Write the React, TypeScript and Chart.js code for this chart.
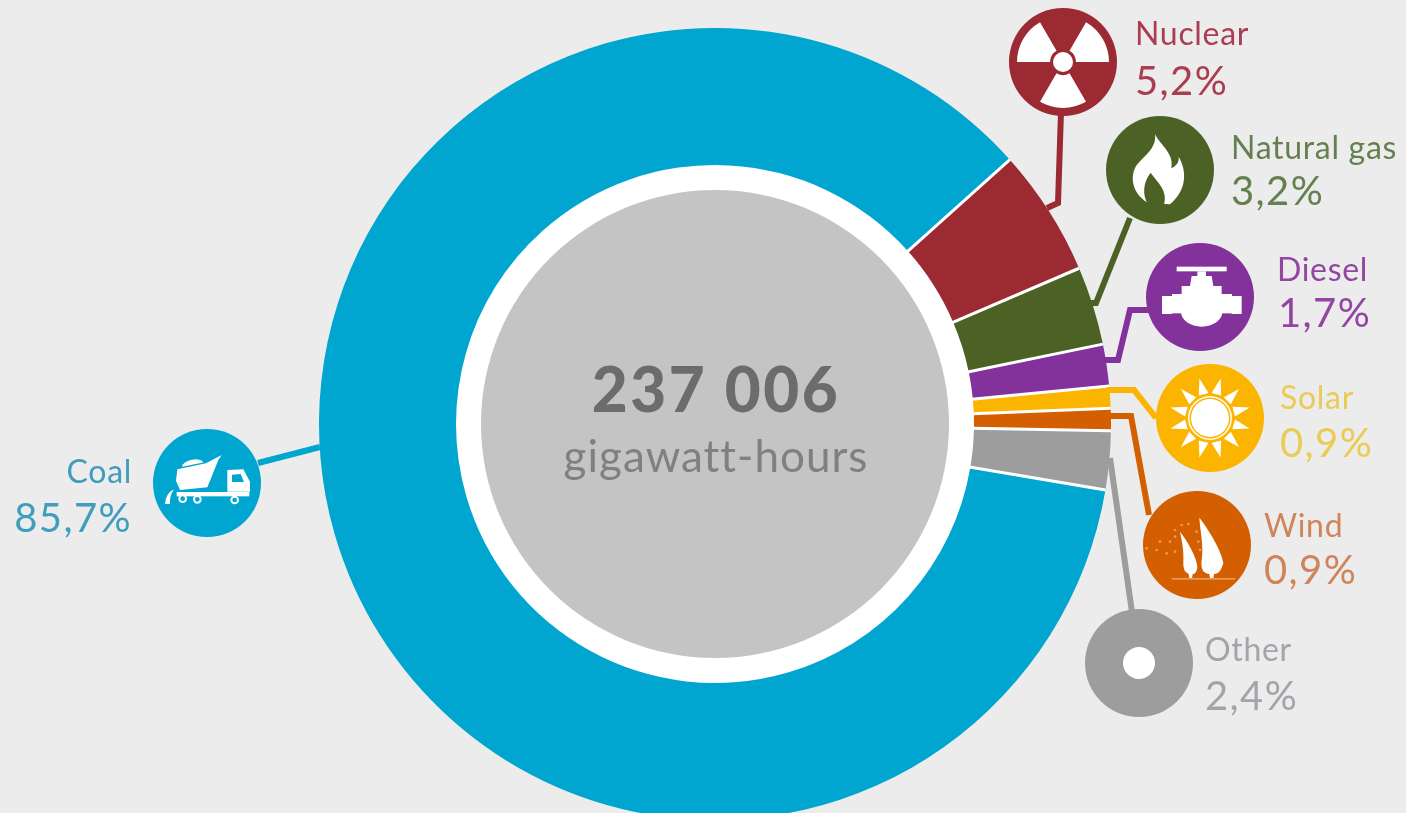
import React, { useEffect, useRef } from "react";
import { Chart, registerables } from "chart.js";

Chart.register(...registerables);

const categories = ["Coal", "Nuclear", "Natural gas", "Diesel", "Solar", "Wind", "Other"];
const shares = [85.7, 5.2, 3.2, 1.7, 0.9, 0.9, 2.4];
const sliceColors = ["#00a5d0", "#9b2a33", "#4c6225", "#84329b", "#fbb400", "#d35f00", "#9d9d9d"];
const labelColors = ["#3f9dbd", "#ab3d50", "#64804f", "#9245a2", "#eacb55", "#d0845a", "#a3a3aa"];
const totalValue = "237 006";
const totalUnit = "gigawatt-hours";

const FONT = "Lato, 'Open Sans', sans-serif";
const BG = "#ececec";

// Callout layout: badge centre, connector route, label position
const badges: [number, number][] = [
  [207, 483], [1063, 62], [1160, 170], [1200, 297], [1210, 418], [1197, 545], [1139, 663],
];
const connectors: [number, number][][] = [
  [[258, 463], [320, 447]],
  [[1061, 112], [1058, 203], [1047, 208]],
  [[1130, 218], [1096, 303], [1089, 303]],
  [[1150, 310], [1130, 310], [1118, 360], [1104, 360]],
  [[1107, 390], [1134, 390], [1156, 418]],
  [[1108, 416], [1131, 416], [1149, 515]],
  [[1110, 458], [1132, 612]],
];
const labelSpots: [number, number, number, number][] = [
  [132, 483, 132, 532],
  [1135, 45, 1135, 95],
  [1231, 159, 1231, 205],
  [1277, 281, 1278, 327],
  [1280, 409, 1280, 457],
  [1264, 537, 1264, 584],
  [1205, 661, 1205, 710],
];
const BADGE_R = 54;

function poly(ctx: CanvasRenderingContext2D, pts: number[][]) {
  ctx.beginPath();
  pts.forEach((p, i) => (i ? ctx.lineTo(p[0], p[1]) : ctx.moveTo(p[0], p[1])));
  ctx.closePath();
  ctx.fill();
}
function dot(ctx: CanvasRenderingContext2D, x: number, y: number, r: number) {
  ctx.beginPath();
  ctx.arc(x, y, r, 0, Math.PI * 2);
  ctx.fill();
}

function iconCoal(ctx: CanvasRenderingContext2D, c: string) {
  ctx.save();
  ctx.translate(0, 410);
  ctx.scale(1 / 3, 1 / 3);
  ctx.fillStyle = "#fff";
  poly(ctx, [[532, 178], [618, 160], [665, 135], [655, 150], [622, 232], [540, 240], [528, 212]]);
  ctx.beginPath();
  ctx.ellipse(578, 164, 32, 15, -0.2, Math.PI, 0);
  ctx.fill();
  poly(ctx, [[682, 180], [730, 178], [750, 215], [750, 245], [682, 245]]);
  ctx.fillStyle = c;
  poly(ctx, [[696, 194], [722, 192], [732, 216], [696, 216]]);
  ctx.fillStyle = "#fff";
  ctx.fillRect(530, 246, 218, 13);
  ctx.beginPath();
  ctx.moveTo(495, 282);
  ctx.quadraticCurveTo(497, 250, 522, 238);
  ctx.quadraticCurveTo(508, 258, 510, 282);
  ctx.closePath();
  ctx.fill();
  ctx.strokeStyle = "#fff";
  ctx.lineWidth = 6;
  ctx.fillStyle = c;
  [[548, 266], [592, 268], [704, 270]].forEach(([x, y]) => {
    ctx.beginPath();
    ctx.arc(x, y, 10, 0, Math.PI * 2);
    ctx.fill();
    ctx.stroke();
  });
  ctx.restore();
}

function iconNuclear(ctx: CanvasRenderingContext2D, cx: number, cy: number) {
  ctx.fillStyle = "#fff";
  [[180, 240], [300, 360], [60, 120]].forEach(([a, b]) => {
    const s = (a * Math.PI) / 180;
    const e = (b * Math.PI) / 180;
    ctx.beginPath();
    ctx.arc(cx, cy, 46, s, e);
    ctx.arc(cx, cy, 13, e, s, true);
    ctx.closePath();
    ctx.fill();
  });
  dot(ctx, cx, cy, 10);
}

function iconGas(ctx: CanvasRenderingContext2D, c: string) {
  ctx.save();
  ctx.translate(1000, 0);
  ctx.scale(1 / 3, 1 / 3);
  ctx.fillStyle = "#fff";
  ctx.beginPath();
  ctx.moveTo(465, 403);
  ctx.bezierCurveTo(485, 440, 522, 460, 514, 505);
  ctx.bezierCurveTo(530, 497, 538, 485, 536, 470);
  ctx.bezierCurveTo(562, 515, 560, 570, 510, 613);
  ctx.lineTo(448, 610);
  ctx.bezierCurveTo(405, 590, 385, 540, 408, 498);
  ctx.bezierCurveTo(435, 465, 470, 445, 465, 403);
  ctx.closePath();
  ctx.fill();
  ctx.fillStyle = c;
  ctx.beginPath();
  ctx.moveTo(452, 518);
  ctx.bezierCurveTo(470, 545, 505, 570, 492, 614);
  ctx.lineTo(445, 614);
  ctx.bezierCurveTo(425, 585, 430, 545, 452, 518);
  ctx.closePath();
  ctx.fill();
  ctx.restore();
}

function iconDiesel(ctx: CanvasRenderingContext2D) {
  ctx.save();
  ctx.translate(1000, 0);
  ctx.scale(1 / 3, 1 / 3);
  ctx.fillStyle = "#fff";
  ctx.fillRect(530, 800, 150, 14);
  ctx.fillRect(592, 814, 26, 20);
  poly(ctx, [[575, 828], [635, 828], [640, 858], [665, 858], [665, 885], [545, 885], [545, 858], [570, 858]]);
  ctx.fillRect(486, 888, 30, 54);
  ctx.fillRect(695, 888, 30, 54);
  ctx.fillRect(516, 882, 180, 58);
  ctx.beginPath();
  ctx.ellipse(605, 935, 62, 45, 0, 0, Math.PI);
  ctx.fill();
  ctx.restore();
}

function iconSolar(ctx: CanvasRenderingContext2D, c: string, cx: number, cy: number) {
  ctx.fillStyle = "#fff";
  for (let i = 0; i < 12; i++) {
    const a = ((15 + 30 * i) * Math.PI) / 180;
    const w = 0.2;
    poly(ctx, [
      [cx + 25 * Math.cos(a - w), cy + 25 * Math.sin(a - w)],
      [cx + 41 * Math.cos(a), cy + 41 * Math.sin(a)],
      [cx + 25 * Math.cos(a + w), cy + 25 * Math.sin(a + w)],
    ]);
  }
  dot(ctx, cx, cy, 22);
  ctx.fillStyle = c;
  dot(ctx, cx, cy, 20.5);
  ctx.fillStyle = "#fff";
  dot(ctx, cx, cy, 19);
}

function iconWind(ctx: CanvasRenderingContext2D) {
  ctx.save();
  ctx.translate(1000, 350);
  ctx.scale(1 / 3, 1 / 3);
  ctx.fillStyle = "#fff";
  ctx.beginPath();
  ctx.moveTo(598, 503);
  ctx.bezierCurveTo(620, 530, 665, 600, 670, 640);
  ctx.quadraticCurveTo(660, 675, 642, 672);
  ctx.lineTo(640, 685);
  ctx.lineTo(630, 685);
  ctx.lineTo(628, 672);
  ctx.quadraticCurveTo(600, 670, 605, 630);
  ctx.bezierCurveTo(612, 590, 600, 540, 598, 503);
  ctx.closePath();
  ctx.fill();
  ctx.beginPath();
  ctx.moveTo(540, 545);
  ctx.bezierCurveTo(560, 570, 590, 620, 592, 650);
  ctx.quadraticCurveTo(590, 672, 578, 672);
  ctx.lineTo(576, 685);
  ctx.lineTo(568, 685);
  ctx.lineTo(566, 672);
  ctx.quadraticCurveTo(548, 665, 550, 635);
  ctx.bezierCurveTo(552, 600, 545, 570, 540, 545);
  ctx.closePath();
  ctx.fill();
  ctx.fillStyle = "#eb9a5c";
  ctx.fillRect(515, 684, 190, 5);
  [[525, 540], [545, 525], [565, 522], [590, 545], [595, 575], [600, 600], [480, 575], [440, 595], [510, 575], [470, 600], [500, 610], [525, 605], [525, 560]].forEach(
    ([x, y]) => dot(ctx, x, y, 4)
  );
  ctx.restore();
}

function spaced(ctx: CanvasRenderingContext2D, px: number) {
  (ctx as any).letterSpacing = `${px}px`;
}

const calloutPlugin = {
  id: "callouts",
  beforeDatasetsDraw(chart: Chart) {
    const ctx = chart.ctx;
    const a = chart.getDatasetMeta(0).data[0] as any;
    ctx.save();
    ctx.fillStyle = "#ffffff";
    dot(ctx, a.x, a.y, a.innerRadius + 1);
    ctx.fillStyle = "#c4c4c4";
    dot(ctx, a.x, a.y, 234);
    ctx.restore();
  },
  afterDatasetsDraw(chart: Chart) {
    // White separators along each slice's own start angle
    const ctx = chart.ctx;
    ctx.save();
    ctx.strokeStyle = "#ffffff";
    ctx.lineWidth = 3;
    chart.getDatasetMeta(0).data.forEach((el: any) => {
      const cos = Math.cos(el.startAngle);
      const sin = Math.sin(el.startAngle);
      ctx.beginPath();
      ctx.moveTo(el.x + (el.innerRadius - 1) * cos, el.y + (el.innerRadius - 1) * sin);
      ctx.lineTo(el.x + el.outerRadius * cos, el.y + el.outerRadius * sin);
      ctx.stroke();
    });
    ctx.restore();
  },
  afterDraw(chart: Chart) {
    const ctx = chart.ctx;
    const a = chart.getDatasetMeta(0).data[0] as any;
    ctx.save();
    ctx.textBaseline = "alphabetic";
    ctx.textAlign = "center";
    ctx.fillStyle = "#6c6c6c";
    ctx.font = `900 62px ${FONT}`;
    spaced(ctx, 2.6);
    ctx.fillText(totalValue, a.x + 1, 412);
    ctx.fillStyle = "#808080";
    ctx.font = `400 44px ${FONT}`;
    spaced(ctx, 1);
    ctx.fillText(totalUnit, a.x + 1, 472);

    categories.forEach((name, i) => {
      const c = sliceColors[i];
      const [bx, by] = badges[i];
      ctx.strokeStyle = c;
      ctx.lineWidth = 6;
      ctx.lineJoin = "miter";
      ctx.beginPath();
      connectors[i].forEach((p, k) => (k ? ctx.lineTo(p[0], p[1]) : ctx.moveTo(p[0], p[1])));
      ctx.stroke();
      ctx.fillStyle = c;
      dot(ctx, bx, by, BADGE_R);
      if (i === 0) iconCoal(ctx, c);
      if (i === 1) iconNuclear(ctx, bx, by);
      if (i === 2) iconGas(ctx, c);
      if (i === 3) iconDiesel(ctx);
      if (i === 4) iconSolar(ctx, c, bx, by);
      if (i === 5) iconWind(ctx);
      if (i === 6) {
        ctx.fillStyle = "#fff";
        dot(ctx, bx, by, 16);
      }
      const [nx, ny, px, py] = labelSpots[i];
      ctx.textAlign = i === 0 ? "right" : "left";
      ctx.fillStyle = labelColors[i];
      ctx.font = `400 32px ${FONT}`;
      spaced(ctx, 0.7);
      ctx.fillText(name, nx, ny);
      ctx.font = `400 40px ${FONT}`;
      spaced(ctx, 1.4);
      ctx.fillText(`${shares[i].toFixed(1).replace(".", ",")}%`, px, py);
    });
    ctx.restore();
  },
};

export default function App() {
  const ref = useRef<HTMLCanvasElement | null>(null);
  useEffect(() => {
    document.body.style.margin = "0";
    document.body.style.background = BG;
    document.body.style.overflow = "hidden";
    const chart = new Chart(ref.current!, {
      type: "doughnut",
      data: {
        labels: categories,
        datasets: [
          {
            data: shares,
            backgroundColor: sliceColors,
            borderWidth: 0,
          },
        ],
      },
      options: {
        responsive: false,
        animation: false,
        rotation: 99.6,
        radius: 396,
        cutout: "65.4%",
        layout: { padding: 0 },
        plugins: { legend: { display: false }, tooltip: { enabled: false } },
      },
      plugins: [calloutPlugin],
    } as any);
    return () => chart.destroy();
  }, []);
  return (
    <div style={{ width: 1406, height: 813, overflow: "hidden", background: BG }}>
      <canvas ref={ref} width={1430} height={848} style={{ display: "block" }} />
    </div>
  );
}
